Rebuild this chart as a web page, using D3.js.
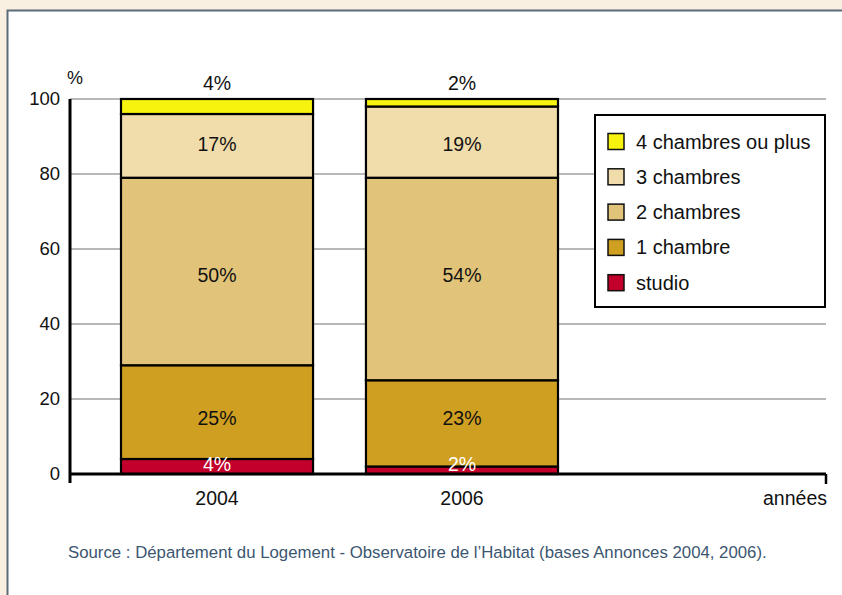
<!DOCTYPE html>
<html>
<head>
<meta charset="utf-8">
<script src="https://cdn.jsdelivr.net/npm/d3@7"></script>
<style>
  html, body { margin: 0; padding: 0; background: #FAF0E1; }
  svg { display: block; font-family: "Liberation Sans", Arial, sans-serif; }
</style>
</head>
<body>
<svg id="chart" width="842" height="595"></svg>
<script>
// Share of dwellings by number of rooms (%)
const years = ["2004", "2006"];
const categories = ["studio", "1 chambre", "2 chambres", "3 chambres", "4 chambres ou plus"];
const studio = [4, 2];
const oneRoom = [25, 23];
const twoRooms = [50, 54];
const threeRooms = [17, 19];
const fourPlus = [4, 2];
const yTicks = [0, 20, 40, 60, 80, 100];
const colors = ["#C2002B", "#CF9F21", "#E1C479", "#F0DDAB", "#F7F30E"];
const sourceText = "Source : Département du Logement - Observatoire de l\u2019Habitat (bases Annonces 2004, 2006).";

const seriesValues = [studio, oneRoom, twoRooms, threeRooms, fourPlus];
const rows = years.map((y, i) => {
  const r = { year: y };
  categories.forEach((c, k) => { r[c] = seriesValues[k][i]; });
  return r;
});
const stacked = d3.stack().keys(categories)(rows);

const svg = d3.select("#chart");
const FONT = 19.5;

// white panel
svg.append("rect")
  .attr("x", 7.5).attr("y", 10.5)
  .attr("width", 850).attr("height", 600)
  .attr("fill", "#fff")
  .attr("stroke", "#5B6B78").attr("stroke-width", 2);

const x0 = 70, x1 = 826, yTop = 99, yBottom = 474;

const x = d3.scaleBand().domain(years).range([121, 558]).paddingInner(0.216).paddingOuter(0);
const y = d3.scaleLinear().domain([0, 100]).range([yBottom, yTop]);

// horizontal gridlines
svg.append("g").selectAll("line")
  .data(yTicks.filter(t => t > 0))
  .join("line")
  .attr("x1", x0).attr("x2", x1)
  .attr("y1", d => y(d)).attr("y2", d => y(d))
  .attr("stroke", "#A0A0A0").attr("stroke-width", 1.3);

// y axis
const yAxis = svg.append("g")
  .attr("transform", `translate(${x0},0)`)
  .call(d3.axisLeft(y).tickValues(yTicks).tickSize(0).tickPadding(10));
yAxis.select(".domain").remove();
yAxis.selectAll("text")
  .attr("font-size", 18.5).attr("fill", "#111")
  .attr("font-family", "Liberation Sans, Arial, sans-serif");
svg.append("line")
  .attr("x1", x0).attr("x2", x0)
  .attr("y1", yTop).attr("y2", yBottom + 9)
  .attr("stroke", "#000").attr("stroke-width", 3);

svg.append("text").attr("x", 67).attr("y", 84)
  .attr("font-size", 18).attr("fill", "#111").text("%");

// stacked bars
const layers = svg.append("g").selectAll("g")
  .data(stacked)
  .join("g")
  .attr("fill", (d, i) => colors[i]);

layers.selectAll("rect")
  .data(d => d)
  .join("rect")
  .attr("x", d => x(d.data.year))
  .attr("width", x.bandwidth())
  .attr("y", d => y(d[1]))
  .attr("height", d => y(d[0]) - y(d[1]))
  .attr("stroke", "#000").attr("stroke-width", 2.2);

// x axis line
svg.append("line")
  .attr("x1", x0).attr("x2", x1)
  .attr("y1", yBottom).attr("y2", yBottom)
  .attr("stroke", "#000").attr("stroke-width", 3);
svg.append("line")
  .attr("x1", x1).attr("x2", x1)
  .attr("y1", yBottom).attr("y2", yBottom + 10)
  .attr("stroke", "#000").attr("stroke-width", 2.5);

// x labels
svg.append("g").selectAll("text")
  .data(years)
  .join("text")
  .attr("x", d => x(d) + x.bandwidth() / 2)
  .attr("y", 505)
  .attr("text-anchor", "middle")
  .attr("font-size", FONT).attr("fill", "#111")
  .text(d => d);
svg.append("text").attr("x", 827).attr("y", 505)
  .attr("text-anchor", "end").attr("font-size", FONT).attr("fill", "#111")
  .text("années");

// value labels: one row per category, centred on the mean mid-height of its segments
const labels = [];
stacked.forEach((layer, k) => {
  const rowMid = d3.mean(layer, d => (y(d[0]) + y(d[1])) / 2);
  layer.forEach(d => {
    const v = d[1] - d[0];
    const cx = x(d.data.year) + x.bandwidth() / 2;
    let cy, fill = "#111";
    if (k === categories.length - 1) {
      cy = y(100) - 16;
    } else if (k === 0) {
      cy = rowMid - 4;
      fill = "#fff";
    } else {
      cy = rowMid;
    }
    labels.push({ cx, cy, fill, text: v + "%" });
  });
});
svg.append("g").selectAll("text")
  .data(labels)
  .join("text")
  .attr("x", d => d.cx).attr("y", d => d.cy)
  .attr("dy", "0.35em")
  .attr("text-anchor", "middle")
  .attr("font-size", FONT).attr("fill", d => d.fill)
  .text(d => d.text);

// legend
const legend = svg.append("g");
legend.append("rect")
  .attr("x", 595).attr("y", 115)
  .attr("width", 230).attr("height", 192)
  .attr("fill", "#fff").attr("stroke", "#000").attr("stroke-width", 2);
const legendOrder = categories.slice().reverse();
const legendRows = legend.selectAll("g")
  .data(legendOrder)
  .join("g")
  .attr("transform", (d, i) => `translate(608, ${133.5 + i * 35.3})`);
legendRows.append("rect")
  .attr("width", 16).attr("height", 16)
  .attr("fill", d => colors[categories.indexOf(d)])
  .attr("stroke", "#111").attr("stroke-width", 1.5);
legendRows.append("text")
  .attr("x", 28).attr("y", 8).attr("dy", "0.35em")
  .attr("font-size", 20).attr("fill", "#111")
  .text(d => d);

// source note
svg.append("text").attr("x", 68).attr("y", 558)
  .attr("font-size", 16.8).attr("fill", "#3B5670")
  .text(sourceText);
</script>
</body>
</html>
